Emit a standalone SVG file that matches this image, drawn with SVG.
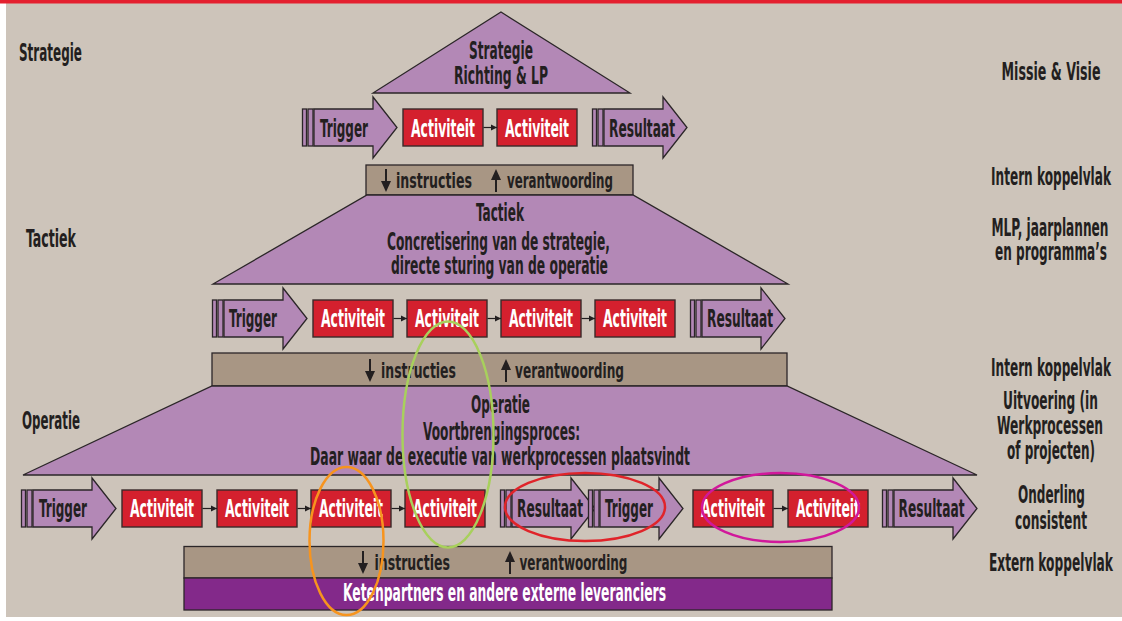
<svg xmlns="http://www.w3.org/2000/svg" xmlns:xlink="http://www.w3.org/1999/xlink" width="1122" height="621" viewBox="0 0 1122 621">
<style>
.shape{fill:#b388b6;stroke:#2b2628;stroke-width:1.3}
.act{fill:#d4202e;stroke:#3a2a2a;stroke-width:1.4}
.bar{fill:#a89684;stroke:#2b2628;stroke-width:1.3}
.ext{fill:#83298a;stroke:#2b2628;stroke-width:1.3}
text{font-family:"Liberation Sans Narrow","DejaVu Sans Condensed","Liberation Sans",sans-serif;font-weight:bold;font-size:24px;fill:#231f20}
.w{fill:#ffffff}
.m{text-anchor:middle}
.b{font-size:22px}
.conn{stroke:#231f20;stroke-width:1.2;fill:none}
.ell{fill:none;stroke-width:2.5}
</style>
<defs>
<marker id="ah" markerUnits="userSpaceOnUse" markerWidth="7" markerHeight="7" refX="6" refY="3.5" orient="auto">
<path d="M0,0.5 L6,3.5 L0,6.5 Z" fill="#231f20"/>
</marker>
<g id="arr">
<rect x="0.5" y="12" width="4" height="37" class="shape"/>
<rect x="6" y="12" width="5" height="37" class="shape"/>
<path d="M12,12 H71 V0 L95,30.5 L71,61 V49 H12 Z" class="shape"/>
</g>
<g id="dn"><path d="M0,0 V14" stroke="#231f20" stroke-width="2"/><path d="M-5,12 H5 L0,23 Z" fill="#231f20"/></g>
<g id="up"><path d="M-5,11 H5 L0,0 Z" fill="#231f20"/><path d="M0,9 V23" stroke="#231f20" stroke-width="2"/></g>
</defs>

<rect x="0" y="0" width="1122" height="621" fill="#ffffff"/>
<rect x="6" y="3" width="1116" height="614" fill="#cdc4ba"/>
<rect x="0" y="0" width="1122" height="3.5" fill="#e4202f"/>

<g id="left-labels"><g transform="scale(0.55,1)">
<text x="34.55" y="61" font-size="25" textLength="114.55" lengthAdjust="spacingAndGlyphs">Strategie</text>
<text x="47.27" y="247" font-size="25" textLength="90.91" lengthAdjust="spacingAndGlyphs">Tactiek</text>
<text x="40" y="429" font-size="25" textLength="105.45" lengthAdjust="spacingAndGlyphs">Operatie</text>
</g></g>

<g id="right-labels"><g transform="scale(0.55,1)">
<text class="m" x="1910.91" y="80.5" textLength="180" lengthAdjust="spacingAndGlyphs">Missie &amp; Visie</text>
<text class="m" x="1910.91" y="185.5" textLength="218.18" lengthAdjust="spacingAndGlyphs">Intern koppelvlak</text>
<text class="m" x="1909.09" y="236" textLength="212.73" lengthAdjust="spacingAndGlyphs">MLP, jaarplannen</text>
<text class="m" x="1910.91" y="260" textLength="203.64" lengthAdjust="spacingAndGlyphs">en programma’s</text>
<text class="m" x="1910.91" y="376" textLength="218.18" lengthAdjust="spacingAndGlyphs">Intern koppelvlak</text>
<text class="m" x="1910" y="409" textLength="172.73" lengthAdjust="spacingAndGlyphs">Uitvoering (in</text>
<text class="m" x="1909.09" y="434" textLength="192.73" lengthAdjust="spacingAndGlyphs">Werkprocessen</text>
<text class="m" x="1910.91" y="459" textLength="160" lengthAdjust="spacingAndGlyphs">of projecten)</text>
<text class="m" x="1911.82" y="503.5" textLength="121.82" lengthAdjust="spacingAndGlyphs">Onderling</text>
<text class="m" x="1910.91" y="529.5" textLength="130.91" lengthAdjust="spacingAndGlyphs">consistent</text>
<text class="m" x="1910.91" y="571.5" textLength="225.45" lengthAdjust="spacingAndGlyphs">Extern koppelvlak</text>
</g></g>

<g id="strategie">
<path d="M501,12 L630,93 L373,93 Z" class="shape"/>
<g transform="scale(0.55,1)">
<text class="m" x="910.91" y="59.5" textLength="116.36" lengthAdjust="spacingAndGlyphs">Strategie</text>
<text class="m" x="910.91" y="84.5" textLength="170.91" lengthAdjust="spacingAndGlyphs">Richting &amp; LP</text>
</g>
</g>

<g id="s-trigger"><use xlink:href="#arr" transform="translate(302,97)"/><g transform="scale(0.55,1)"><text class="m" x="625.45" y="137" textLength="87.27" lengthAdjust="spacingAndGlyphs">Trigger</text></g></g>
<g id="s-act1"><rect x="403" y="109" width="80" height="37" class="act"/><g transform="scale(0.55,1)"><text class="m w" x="805.45" y="137" textLength="116.36" lengthAdjust="spacingAndGlyphs">Activiteit</text></g></g>
<g id="s-act2"><rect x="497" y="109" width="80" height="37" class="act"/><g transform="scale(0.55,1)"><text class="m w" x="976.36" y="137" textLength="116.36" lengthAdjust="spacingAndGlyphs">Activiteit</text></g></g>
<g id="s-result"><use xlink:href="#arr" transform="translate(592,97)"/><g transform="scale(0.55,1)"><text class="m" x="1167.27" y="137" textLength="120" lengthAdjust="spacingAndGlyphs">Resultaat</text></g></g>

<g id="koppel-1">
<rect x="366" y="165" width="267" height="30" class="bar"/>
<use xlink:href="#dn" transform="translate(386,169)"/>
<use xlink:href="#up" transform="translate(496,169)"/>
<g transform="scale(0.55,1)">
<text class="b" x="720" y="188" textLength="138.18" lengthAdjust="spacingAndGlyphs">instructies</text>
<text class="b" x="921.82" y="188" textLength="192.73" lengthAdjust="spacingAndGlyphs">verantwoording</text>
</g>
</g>

<g id="tactiek">
<path d="M367,195 L633,195 L788,284 L213,284 Z" class="shape"/>
<g transform="scale(0.55,1)">
<text class="m" x="909.09" y="221.5" textLength="87.27" lengthAdjust="spacingAndGlyphs">Tactiek</text>
<text class="m" x="906.36" y="250.5" textLength="405.45" lengthAdjust="spacingAndGlyphs">Concretisering van de strategie,</text>
<text class="m" x="908.18" y="274.5" textLength="394.55" lengthAdjust="spacingAndGlyphs">directe sturing van de operatie</text>
</g>
</g>

<g id="t-trigger"><use xlink:href="#arr" transform="translate(212,288)"/><g transform="scale(0.55,1)"><text class="m" x="460" y="327" textLength="87.27" lengthAdjust="spacingAndGlyphs">Trigger</text></g></g>
<g id="t-act1"><rect x="313" y="300" width="80" height="37" class="act"/><g transform="scale(0.55,1)"><text class="m w" x="641.82" y="327" textLength="116.36" lengthAdjust="spacingAndGlyphs">Activiteit</text></g></g>
<g id="t-act2"><rect x="407" y="300" width="80" height="37" class="act"/><g transform="scale(0.55,1)"><text class="m w" x="812.73" y="327" textLength="116.36" lengthAdjust="spacingAndGlyphs">Activiteit</text></g></g>
<g id="t-act3"><rect x="501" y="300" width="80" height="37" class="act"/><g transform="scale(0.55,1)"><text class="m w" x="983.64" y="327" textLength="116.36" lengthAdjust="spacingAndGlyphs">Activiteit</text></g></g>
<g id="t-act4"><rect x="595" y="300" width="80" height="37" class="act"/><g transform="scale(0.55,1)"><text class="m w" x="1154.55" y="327" textLength="116.36" lengthAdjust="spacingAndGlyphs">Activiteit</text></g></g>
<g id="t-result"><use xlink:href="#arr" transform="translate(690,288)"/><g transform="scale(0.55,1)"><text class="m" x="1345.45" y="327" textLength="120" lengthAdjust="spacingAndGlyphs">Resultaat</text></g></g>

<g id="koppel-2">
<rect x="212" y="353" width="575" height="33" class="bar"/>
<use xlink:href="#dn" transform="translate(370,359)"/>
<use xlink:href="#up" transform="translate(506,359)"/>
<g transform="scale(0.55,1)">
<text class="b" x="692.73" y="378.5" textLength="136.36" lengthAdjust="spacingAndGlyphs">instructies</text>
<text class="b" x="936.36" y="378.5" textLength="198.18" lengthAdjust="spacingAndGlyphs">verantwoording</text>
</g>
</g>

<g id="operatie">
<path d="M212,386 L787,386 L977,475 L23,475 Z" class="shape"/>
<g transform="scale(0.55,1)">
<text class="m" x="910" y="413.5" textLength="107.27" lengthAdjust="spacingAndGlyphs">Operatie</text>
<text class="m" x="911.82" y="440.5" textLength="285.45" lengthAdjust="spacingAndGlyphs">Voortbrengingsproces:</text>
<text class="m" x="909.09" y="465.5" textLength="690.91" lengthAdjust="spacingAndGlyphs">Daar waar de executie van werkprocessen plaatsvindt</text>
</g>
</g>

<g id="o-trigger"><use xlink:href="#arr" transform="translate(21,478)"/><g transform="scale(0.55,1)"><text class="m" x="114.55" y="517" textLength="87.27" lengthAdjust="spacingAndGlyphs">Trigger</text></g></g>
<g id="o-act1"><rect x="122" y="490" width="80" height="37" class="act"/><g transform="scale(0.55,1)"><text class="m w" x="294.55" y="517" textLength="116.36" lengthAdjust="spacingAndGlyphs">Activiteit</text></g></g>
<g id="o-act2"><rect x="217" y="490" width="80" height="37" class="act"/><g transform="scale(0.55,1)"><text class="m w" x="467.27" y="517" textLength="116.36" lengthAdjust="spacingAndGlyphs">Activiteit</text></g></g>
<g id="o-act3"><rect x="311" y="490" width="80" height="37" class="act"/><g transform="scale(0.55,1)"><text class="m w" x="638.18" y="517" textLength="116.36" lengthAdjust="spacingAndGlyphs">Activiteit</text></g></g>
<g id="o-act4"><rect x="405" y="490" width="80" height="37" class="act"/><g transform="scale(0.55,1)"><text class="m w" x="809.09" y="517" textLength="116.36" lengthAdjust="spacingAndGlyphs">Activiteit</text></g></g>
<g id="o-result1"><use xlink:href="#arr" transform="translate(500,478)"/><g transform="scale(0.55,1)"><text class="m" x="1000" y="517" textLength="120" lengthAdjust="spacingAndGlyphs">Resultaat</text></g></g>
<g id="o-trigger2"><use xlink:href="#arr" transform="translate(588,478)"/><g transform="scale(0.55,1)"><text class="m" x="1143.64" y="517" textLength="87.27" lengthAdjust="spacingAndGlyphs">Trigger</text></g></g>
<g id="o-act5"><rect x="693" y="490" width="80" height="37" class="act"/><g transform="scale(0.55,1)"><text class="m w" x="1332.73" y="517" textLength="116.36" lengthAdjust="spacingAndGlyphs">Activiteit</text></g></g>
<g id="o-act6"><rect x="788" y="490" width="80" height="37" class="act"/><g transform="scale(0.55,1)"><text class="m w" x="1505.45" y="517" textLength="116.36" lengthAdjust="spacingAndGlyphs">Activiteit</text></g></g>
<g id="o-result2"><use xlink:href="#arr" transform="translate(882,478)"/><g transform="scale(0.55,1)"><text class="m" x="1693.64" y="517" textLength="120" lengthAdjust="spacingAndGlyphs">Resultaat</text></g></g>

<g id="koppel-extern">
<rect x="184" y="546.5" width="648" height="31.5" class="bar"/>
<use xlink:href="#dn" transform="translate(363,551)"/>
<use xlink:href="#up" transform="translate(510,551)"/>
<g transform="scale(0.55,1)">
<text class="b" x="680.91" y="570" textLength="137.27" lengthAdjust="spacingAndGlyphs">instructies</text>
<text class="b" x="944.55" y="570" textLength="196.36" lengthAdjust="spacingAndGlyphs">verantwoording</text>
</g>
</g>
<g id="ketenpartners">
<rect x="184" y="578" width="648" height="32" class="ext"/>
<g transform="scale(0.55,1)"><text class="m w" x="917.27" y="601.5" textLength="587.27" lengthAdjust="spacingAndGlyphs">Ketenpartners en andere externe leveranciers</text></g>
</g>

<g id="connectors">
<line class="conn" x1="483.5" y1="127.5" x2="497" y2="127.5" marker-end="url(#ah)"/>
<line class="conn" x1="393.5" y1="318.5" x2="407" y2="318.5" marker-end="url(#ah)"/>
<line class="conn" x1="487.5" y1="318.5" x2="501" y2="318.5" marker-end="url(#ah)"/>
<line class="conn" x1="581.5" y1="318.5" x2="595" y2="318.5" marker-end="url(#ah)"/>
<line class="conn" x1="202.5" y1="508.5" x2="217" y2="508.5" marker-end="url(#ah)"/>
<line class="conn" x1="297.5" y1="508.5" x2="311" y2="508.5" marker-end="url(#ah)"/>
<line class="conn" x1="391.5" y1="508.5" x2="405" y2="508.5" marker-end="url(#ah)"/>
<line class="conn" x1="773.5" y1="508.5" x2="788" y2="508.5" marker-end="url(#ah)"/>
</g>

<g id="highlights">
<ellipse class="ell" cx="448" cy="434.5" rx="45.5" ry="113" stroke="#a8d05c"/>
<ellipse class="ell" cx="346.5" cy="541" rx="37" ry="74" stroke="#f7941e"/>
<ellipse class="ell" cx="585" cy="507" rx="80" ry="34" stroke="#e0242a"/>
<ellipse class="ell" cx="780.5" cy="507.5" rx="78.5" ry="34.5" stroke="#d1189b"/>
</g>
</svg>
